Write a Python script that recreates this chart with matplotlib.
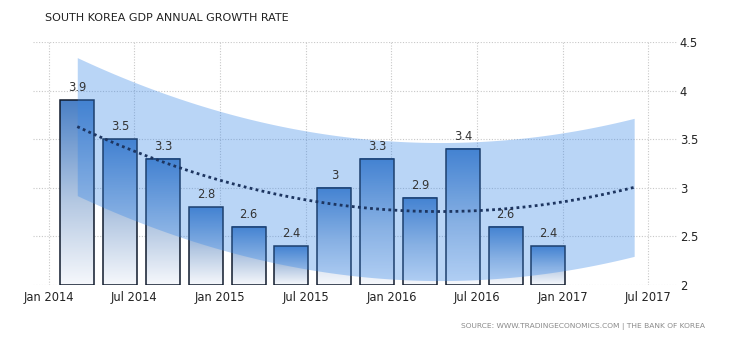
import matplotlib
matplotlib.use("Agg")
import matplotlib.pyplot as plt
import numpy as np
from matplotlib.patches import Rectangle
from matplotlib.colors import LinearSegmentedColormap

# quarterly GDP growth, Q1 2014 .. Q4 2016
quarters = ['Q1 2014', 'Q2 2014', 'Q3 2014', 'Q4 2014',
            'Q1 2015', 'Q2 2015', 'Q3 2015', 'Q4 2015',
            'Q1 2016', 'Q2 2016', 'Q3 2016', 'Q4 2016']
growth = [3.9, 3.5, 3.3, 2.8, 2.6, 2.4, 3.0, 3.3, 2.9, 3.4, 2.6, 2.4]
tick_labels = ['Jan 2014', 'Jul 2014', 'Jan 2015', 'Jul 2015',
               'Jan 2016', 'Jul 2016', 'Jan 2017', 'Jul 2017']
y_ticks = [2, 2.5, 3, 3.5, 4, 4.5]
band_half = 0.71
extra_q = 2        # trend runs two quarters past the last bar

# x in months since Jan 2014, bars sit in the middle month of each quarter
x = np.array([2 + 3 * i for i in range(len(quarters))], dtype=float)
y = np.array(growth)

fig = plt.figure(figsize=(7.3, 3.4), dpi=100)
ax = fig.add_axes([33 / 730, 1 - 285 / 340, (677 - 33) / 730, (285 - 42) / 340])

for s in ax.spines.values():
    s.set_visible(False)

ax.set_xticks(np.arange(0, 43, 6))
ax.set_xticklabels(tick_labels, fontsize=8.3, color='#222222')
ax.set_yticks(y_ticks)
ax.set_yticklabels(['2', '2.5', '3', '3.5', '4', '4.5'], fontsize=8.3, color='#222222')
ax.yaxis.tick_right()
ax.tick_params(length=0, pad=4)
ax.tick_params(axis='y', pad=2)
ax.grid(True, color='#c8c8c8', linestyle=(0, (1, 1.5)), linewidth=0.8)
ax.set_axisbelow(True)

cmap = LinearSegmentedColormap.from_list(
    'bar', [(0, '#f6f8fc'), (0.45, '#b4c8e2'), (1, '#4a80c6')])
grad = np.linspace(0, 1, 256).reshape(-1, 1)
w = 2.38
for xi, yi in zip(x, y):
    ax.imshow(grad, extent=(xi - w / 2, xi + w / 2, 2, yi), origin='lower',
              cmap=cmap, aspect='auto', zorder=2, interpolation='bilinear')
    ax.add_patch(Rectangle((xi - w / 2, 2), w, yi - 2, fill=False,
                           edgecolor='#0f1a2c', linewidth=1.1, zorder=3))
    ax.text(xi, yi + 0.06, ('%g' % yi), ha='center', va='bottom',
            fontsize=8.3, color='#333333', zorder=5)

# quadratic trend with band
t = np.arange(len(y))
coef = np.polyfit(t, y, 2)
tt = np.linspace(0, len(y) - 1 + extra_q, 200)
trend = np.polyval(coef, tt)
xt = 2 + 3 * tt
ax.fill_between(xt, trend - band_half, trend + band_half,
                color=(55 / 255, 135 / 255, 232 / 255), alpha=0.35,
                linewidth=0, zorder=4)
ax.plot(xt, trend, color='#1d3560', linestyle=(0, (1, 1.2)), linewidth=2, zorder=5)

ax.set_xlim(-1.1, 44.0)
ax.set_ylim(2, 4.5)

fig.text(45 / 730, 1 - 18 / 340, 'SOUTH KOREA GDP ANNUAL GROWTH RATE',
         fontsize=8, color='#222222', va='center', ha='left')
fig.text(705 / 730, 1 - 326 / 340,
         'SOURCE: WWW.TRADINGECONOMICS.COM | THE BANK OF KOREA',
         fontsize=5.4, color='#8a8a8a', va='center', ha='right')

fig.savefig('out.png', dpi=100)
